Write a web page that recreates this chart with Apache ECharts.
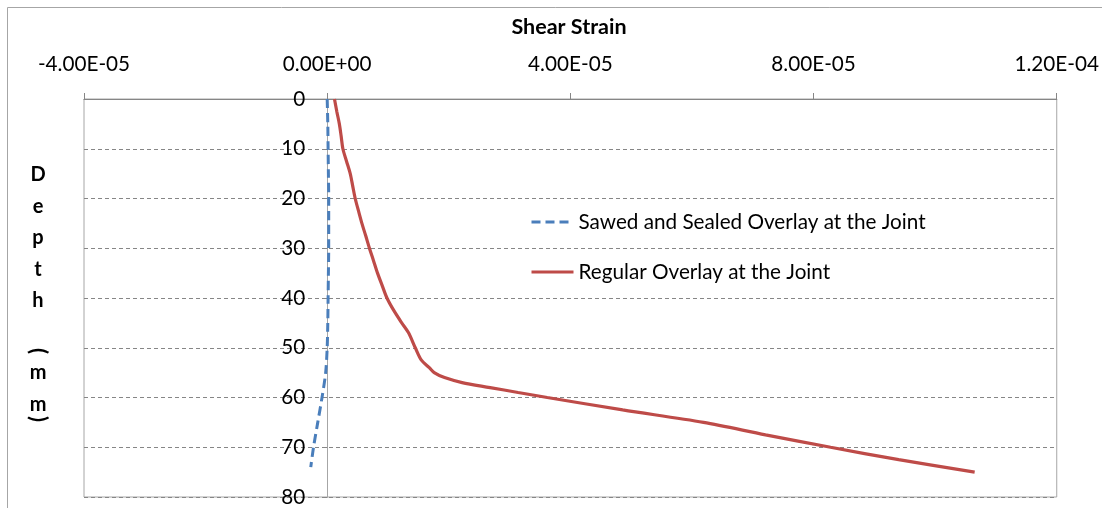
<!DOCTYPE html>
<html>
<head>
<meta charset="utf-8">
<style>
  html, body { margin: 0; padding: 0; background: #ffffff; }
  #chart { width: 1102px; height: 508px; }
</style>
<script src="https://cdn.jsdelivr.net/npm/echarts@6/dist/echarts.min.js"></script>
</head>
<body>
<div id="chart"></div>
<script>
// Depth (mm) and shear strain for each overlay configuration
const depthSawed = [0, 5, 10, 15, 20, 25, 30, 35, 40, 45, 50, 55, 60, 65, 70, 74];
const strainSawed = [0, 1.0e-7, 1.5e-7, 2.0e-7, 2.5e-7, 2.5e-7, 2.5e-7, 2.0e-7, 1.5e-7, 1.0e-7, 0,
  -2.5e-7, -8.5e-7, -1.55e-6, -2.25e-6, -2.7e-6];

const depthRegular = [0, 2.5, 5, 7.5, 10, 12.5, 15, 17.5, 20, 22.5, 25, 27.5, 30, 32.5, 35, 37.5,
  40, 42.5, 45, 47, 50, 52.5, 54, 55, 56, 57, 58, 59, 60, 62.5, 65, 67.5, 70, 72.5, 75];
const strainRegular = [1.20e-6, 1.58e-6, 2.00e-6, 2.30e-6, 2.58e-6, 3.18e-6, 3.79e-6, 4.20e-6,
  4.61e-6, 5.15e-6, 5.71e-6, 6.34e-6, 6.95e-6, 7.62e-6, 8.28e-6, 9.05e-6, 9.83e-6, 1.095e-5,
  1.226e-5, 1.338e-5, 1.449e-5, 1.55e-5, 1.68e-5, 1.76e-5, 1.93e-5, 2.22e-5, 2.68e-5, 3.14e-5,
  3.62e-5, 4.86e-5, 6.19e-5, 7.21e-5, 8.28e-5, 9.40e-5, 1.065e-4];

const seriesNames = ['Sawed and Sealed Overlay at the Joint', 'Regular Overlay at the Joint'];

// Axis ticks
const strainMin = -4e-5, strainMax = 1.2e-4, strainStep = 4e-5;
const strainTickLabels = ['-4.00E-05', '0.00E+00', '4.00E-05', '8.00E-05', '1.20E-04'];
const depthMin = 0, depthMax = 80, depthStep = 10;

const FONT = 'Lato, "Open Sans", "Liberation Sans", sans-serif';
const TEXT_SIZE = 20.7;

const CHART_W = 1102;
const GRID = { left: 84, right: 45, top: 99, bottom: 11 };
const plotWidth = CHART_W - GRID.left - GRID.right;
// The depth axis crosses the strain axis at zero strain
const depthAxisShift = -plotWidth * (0 - strainMin) / (strainMax - strainMin);

const toPairs = (xs, ys) => ys.map((y, i) => [xs[i], y]);

// Vertical, letter-stacked axis title (parentheses turned a quarter clockwise)
const nameLetters = [
  ['D', 175], ['e', 207], ['p', 238], ['t', 270], ['h', 301],
  ['(', 351, true], ['m', 373], ['m', 405], [')', 419, true]
];
const nameGraphics = nameLetters.map(([ch, cy, turned]) => ({
  type: 'text',
  x: 38, y: cy,
  rotation: turned ? -Math.PI / 2 : 0,
  silent: true,
  style: {
    text: ch, fill: '#000', font: 'bold ' + (turned ? 22 : 20) + 'px ' + FONT,
    align: 'center', verticalAlign: 'middle'
  }
}));

const chart = echarts.init(document.getElementById('chart'), null, { renderer: 'canvas' });

chart.setOption({
  animation: false,
  backgroundColor: '#ffffff',
  textStyle: { fontFamily: FONT, color: '#000' },
  graphic: [
    {
      type: 'rect', silent: true, z: -1,
      shape: { x: 7.5, y: 7.5, width: 1300, height: 700 },
      style: { fill: 'none', stroke: '#a6a6a6', lineWidth: 1 }
    },
    {
      type: 'text', silent: true, x: 569, y: 27,
      style: {
        text: 'Shear Strain', fill: '#000', font: 'bold 21.5px ' + FONT,
        align: 'center', verticalAlign: 'middle'
      }
    },
    ...nameGraphics
  ],
  legend: {
    orient: 'vertical',
    left: 525, top: 205,
    itemWidth: 42, itemHeight: 14, itemGap: 26,
    itemStyle: { opacity: 0 },
    lineStyle: { width: 3 },
    textStyle: { fontFamily: FONT, fontSize: TEXT_SIZE, color: '#000', lineHeight: 24 },
    data: seriesNames
  },
  grid: {
    left: GRID.left, right: GRID.right, top: GRID.top, bottom: GRID.bottom,
    show: true, borderColor: '#a6a6a6', borderWidth: 1, backgroundColor: 'transparent'
  },
  xAxis: {
    type: 'value', position: 'top',
    min: strainMin, max: strainMax, interval: strainStep,
    axisLine: { show: true, onZero: false, lineStyle: { color: '#868686', width: 1 } },
    axisTick: { show: true, length: 6, lineStyle: { color: '#868686' } },
    axisLabel: {
      margin: 24, fontSize: TEXT_SIZE, fontFamily: FONT, color: '#000',
      formatter: (v) => strainTickLabels[Math.round((v - strainMin) / strainStep)] || ''
    },
    splitLine: { show: false }
  },
  yAxis: {
    type: 'value', inverse: true, position: 'left',
    offset: depthAxisShift,
    min: depthMin, max: depthMax, interval: depthStep,
    axisLine: { show: true, onZero: false, lineStyle: { color: '#a6a6a6', width: 1 } },
    axisTick: { show: true, length: 5, lineStyle: { color: '#868686' } },
    axisLabel: { margin: 22, fontSize: TEXT_SIZE, fontFamily: FONT, color: '#000' },
    splitLine: { show: true, lineStyle: { color: '#868686', type: [4, 3], width: 1 } }
  },
  series: [
    {
      name: seriesNames[0], type: 'line',
      data: toPairs(strainSawed, depthSawed),
      showSymbol: false, symbol: 'none', smooth: 0.3,
      lineStyle: { color: '#4a7ebb', width: 3, type: [9, 5] },
      itemStyle: { color: '#4a7ebb' },
      z: 3
    },
    {
      name: seriesNames[1], type: 'line',
      data: toPairs(strainRegular, depthRegular),
      showSymbol: false, symbol: 'none', smooth: 0.3,
      lineStyle: { color: '#be4b48', width: 3.2 },
      itemStyle: { color: '#be4b48' },
      z: 4
    }
  ]
});
</script>
</body>
</html>
